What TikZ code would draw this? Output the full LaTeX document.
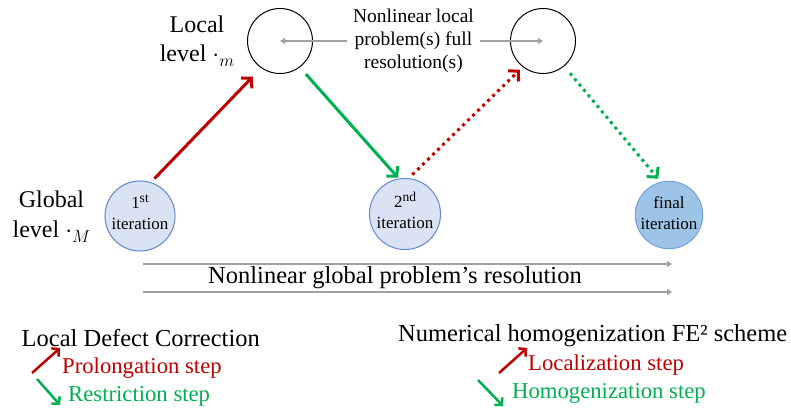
\documentclass[tikz,border=0pt]{standalone}
\usepackage{fontspec}
\setmainfont{Liberation Serif}
\usetikzlibrary{arrows.meta}
\definecolor{myred}{RGB}{192,0,0}
\definecolor{mygreen}{RGB}{0,176,80}
\definecolor{lgray}{RGB}{160,160,160}
\definecolor{iterfill}{RGB}{218,227,243}
\definecolor{iterdraw}{RGB}{95,135,210}
\definecolor{finfill}{RGB}{157,195,230}
\definecolor{findraw}{RGB}{115,160,220}
\newcommand{\supr}[1]{\raisebox{6pt}{\fontsize{13.5}{13.5}\selectfont #1}}
\newcommand{\subr}[1]{\raisebox{-4.5pt}{\fontsize{18}{18}\selectfont$#1$}}
\tikzset{
  localc/.style={circle, draw=black, line width=1pt, minimum size=65pt, inner sep=0pt},
  iterc/.style={circle, draw=iterdraw, fill=iterfill, line width=1pt, minimum size=66pt,
    inner sep=0pt, align=center, font=\fontsize{17}{21}\selectfont},
  finc/.style={iterc, draw=findraw, fill=finfill},
  bigarrow/.style={line width=3pt, -{Straight Barb[length=7pt,width=15pt]}},
  dotarrow/.style={bigarrow, dash pattern=on 3pt off 4pt},
  smallarrow/.style={line width=2.5pt, -{Straight Barb[length=5pt,width=11pt]}},
  grayarrow/.style={draw=lgray, line width=1.5pt, -{Triangle[length=5pt,width=6pt]}},
  biglbl/.style={inner sep=0pt, font=\fontsize{24.5}{29}\selectfont},
  steplbl/.style={inner sep=0pt, anchor=base west, font=\fontsize{22.7}{27}\selectfont},
}
\begin{document}
\begin{tikzpicture}[x=1pt,y=-1pt]
\useasboundingbox (0,0) rectangle (791,410);

% local level circles
\node[localc] (loc1) at (280,41) {};
\node[localc] (loc2) at (543,41) {};
\node[inner ysep=2pt, inner xsep=6pt, align=center, font=\fontsize{19.5}{23}\selectfont] (nl) at (413.5,41)
  {Nonlinear local\\problem(s) full\\resolution(s)};
\draw[grayarrow] (nl.west) -- (loc1.center);
\draw[grayarrow] (nl.east) -- (loc2.center);

% level labels
\node[biglbl, align=center, font=\fontsize{24}{29}\selectfont] (loclbl) at (197,41) {Local\\level $\cdot$\subr{m}};
\node[biglbl, align=center, font=\fontsize{24}{30}\selectfont] (globlbl) at (51.5,216.6) {Global\\level $\cdot$\subr{M}};

% global iterations
\node[iterc] (it1) at (140,216) {1\supr{st}\\iteration\rule[-7pt]{0pt}{7pt}};
\node[iterc, minimum size=68pt] (it2) at (405,214) {2\supr{nd}\\iteration\rule[-7pt]{0pt}{7pt}};
\node[finc, minimum size=67pt] (fin) at (669,215) {final\\iteration\rule[-4pt]{0pt}{4pt}};

% transitions
\draw[bigarrow, myred, shorten <=5pt, shorten >=12pt] (it1.72) -- (loc1.235);
\draw[bigarrow, mygreen, shorten <=9pt, shorten >=1pt] (loc1.307) -- (it2.100);
\draw[dotarrow, myred, shorten <=5pt, shorten >=4pt] (it2.84) -- (loc2.232);
\draw[dotarrow, mygreen, shorten <=9pt, shorten >=4pt] (loc2.310) -- (fin.104);

% global resolution
\coordinate (ga1) at (143,264);
\coordinate (gb1) at (672,264);
\coordinate (ga2) at (143,292);
\coordinate (gb2) at (672,292);
\draw[grayarrow] (ga1) -- (gb1);
\draw[grayarrow] (ga2) -- (gb2);
\node[biglbl, anchor=base] (glob) at (395,283) {Nonlinear global problem’s resolution};

% legend left
\node[biglbl, anchor=base west] (ldc) at (21.5,346) {Local Defect Correction};
\node[steplbl, text=myred] (prol) at (62,373) {Prolongation step};
\node[steplbl, text=mygreen] (restr) at (68,401) {Restriction step};
\coordinate (lr1) at (32,373);
\coordinate (lr2) at (60,348);
\coordinate (lg1) at (37,379);
\coordinate (lg2) at (60,405);
\draw[smallarrow, myred] (lr1) -- (lr2);
\draw[smallarrow, mygreen] (lg1) -- (lg2);

% legend right
\node[biglbl, anchor=base west] (fe2) at (398,341) {Numerical homogenization FE² scheme};
\node[steplbl, text=myred] (locz) at (528,370) {Localization step};
\node[steplbl, text=mygreen] (homz) at (512,398) {Homogenization step};
\coordinate (rr1) at (499,373);
\coordinate (rr2) at (527,348);
\coordinate (rg1) at (478,380);
\coordinate (rg2) at (503,406);
\draw[smallarrow, myred] (rr1) -- (rr2);
\draw[smallarrow, mygreen] (rg1) -- (rg2);
\end{tikzpicture}
\end{document}
